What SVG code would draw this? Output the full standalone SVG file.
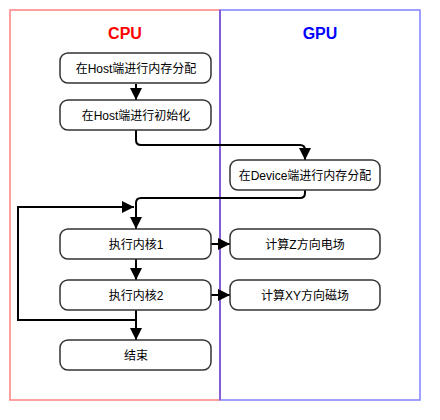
<svg xmlns="http://www.w3.org/2000/svg" width="440" height="420" viewBox="0 0 440 420">
<style>
.node rect{fill:#fff;stroke:#333;stroke-width:1.5}
.node text{font-family:"Liberation Sans","Noto Sans CJK SC",sans-serif;font-size:12px;fill:#000;text-anchor:middle}
.title{font-family:"Liberation Sans",sans-serif;font-size:16px;font-weight:bold;text-anchor:middle}
#connectors path{fill:none;stroke:#000;stroke-width:2}
</style>
<defs>
<marker id="arr" markerWidth="6" markerHeight="6" refX="6" refY="3" orient="auto" markerUnits="userSpaceOnUse" viewBox="0 0 6 6">
<path d="M0,0 L6,3 L0,6 z" fill="#000"/>
</marker>
<marker id="a" viewBox="0 0 12 12" refX="12" refY="6" markerWidth="12" markerHeight="12" markerUnits="userSpaceOnUse" orient="auto">
<path d="M0,0 L12,6 L0,12 z" fill="#000"/>
</marker>
</defs>
<rect width="440" height="420" fill="#fff"/>
<g id="lane-cpu">
<rect x="10" y="10" width="210" height="390" fill="none" stroke="#FF8080" stroke-width="1.5"/>
<text class="title" x="125" y="39" fill="#FF0000">CPU</text>
</g>
<g id="lane-gpu">
<rect x="220" y="10" width="200" height="390" fill="none" stroke="#8080FF" stroke-width="1.5"/>
<line x1="220" y1="10" x2="220" y2="400" stroke="#7F4FCF" stroke-width="1.5"/>
<text class="title" x="320" y="39" fill="#0000FF">GPU</text>
</g>
<g id="connectors">
<path d="M136,84 V100" marker-end="url(#a)"/>
<path d="M136,130 V140 Q136,145 141,145 H300 Q305,145 305,150 V160" marker-end="url(#a)"/>
<path d="M305,190 V193 Q305,198 300,198 H141 Q136,198 136,203 V229" marker-end="url(#a)"/>
<path d="M211,244 H230" marker-end="url(#a)"/>
<path d="M136,259 V280" marker-end="url(#a)"/>
<path d="M211,295 H230" marker-end="url(#a)"/>
<path d="M136,310 V340" marker-end="url(#a)"/>
<path d="M136,320 H18 V207 H134" marker-end="url(#a)"/>
</g>
<g id="n1" class="node"><rect x="60" y="53" width="151" height="30" rx="8"/><text x="136" y="72.5">在Host端进行内存分配</text></g>
<g id="n2" class="node"><rect x="60" y="100" width="151" height="30" rx="8"/><text x="136" y="119.5">在Host端进行初始化</text></g>
<g id="n3" class="node"><rect x="230" y="160" width="150" height="30" rx="8"/><text x="305" y="179.5">在Device端进行内存分配</text></g>
<g id="n4" class="node"><rect x="60" y="229" width="151" height="30" rx="8"/><text x="136" y="248.5">执行内核1</text></g>
<g id="n5" class="node"><rect x="230" y="229" width="150" height="30" rx="8"/><text x="305" y="248.5">计算Z方向电场</text></g>
<g id="n6" class="node"><rect x="60" y="280" width="151" height="30" rx="8"/><text x="136" y="299.5">执行内核2</text></g>
<g id="n7" class="node"><rect x="230" y="280" width="150" height="30" rx="8"/><text x="305" y="299.5">计算XY方向磁场</text></g>
<g id="n8" class="node"><rect x="60" y="340" width="151" height="30" rx="8"/><text x="136" y="359.5">结束</text></g>
</svg>
